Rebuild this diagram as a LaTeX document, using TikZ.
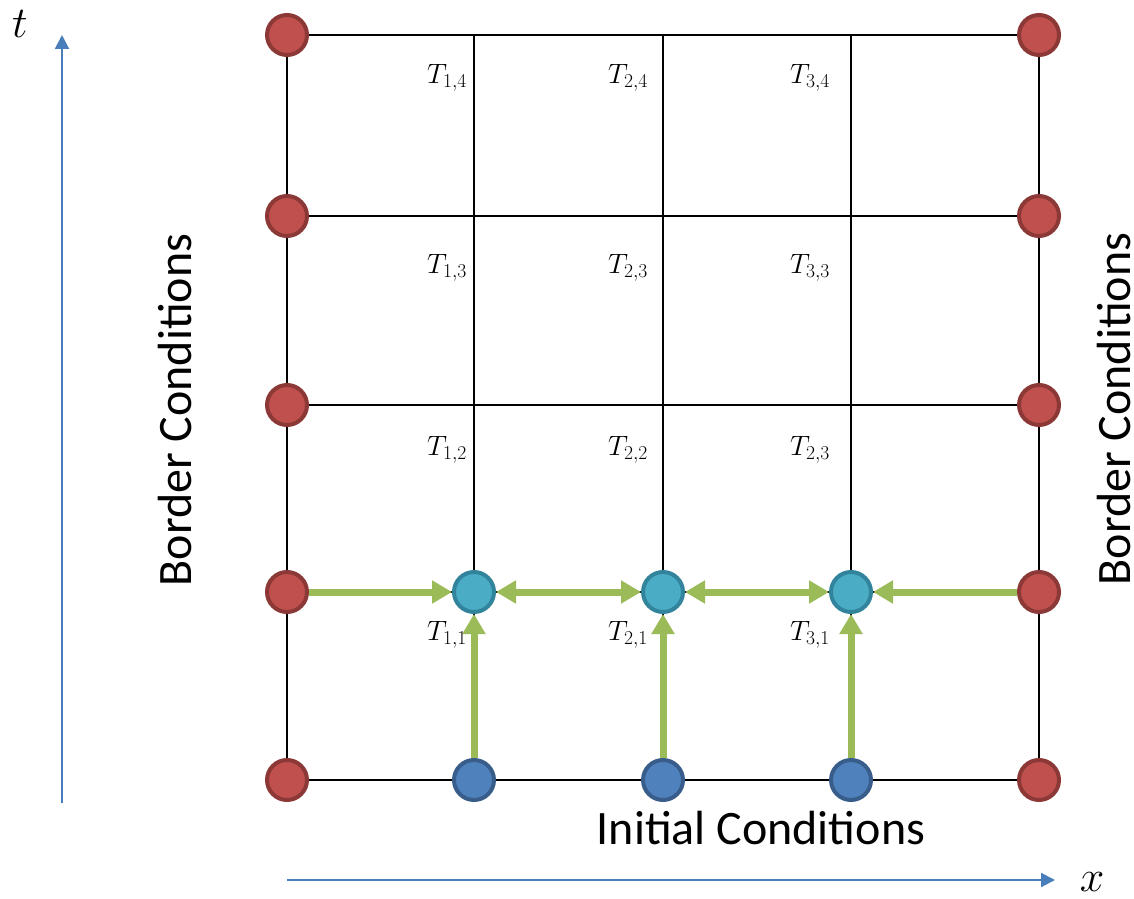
\RequirePackage{fix-cm}
\documentclass[tikz,border=0pt]{standalone}
\usepackage{fontspec}
\setmainfont{Carlito}
\usetikzlibrary{arrows.meta}
\definecolor{redfill}{HTML}{C0504D}
\definecolor{redline}{HTML}{8C3836}
\definecolor{bluefill}{HTML}{4F81BD}
\definecolor{blueline}{HTML}{385D8A}
\definecolor{cyanfill}{HTML}{4BACC6}
\definecolor{cyanline}{HTML}{31849B}
\definecolor{greenarr}{HTML}{9BBB59}
\definecolor{axisblue}{HTML}{4A7EBB}
\tikzset{
  dotbase/.style={circle, minimum size=40pt, inner sep=0pt, line width=4pt},
  reddot/.style={dotbase, fill=redfill, draw=redline},
  bluedot/.style={dotbase, fill=bluefill, draw=blueline},
  cyandot/.style={dotbase, fill=cyanfill, draw=cyanline},
  gridline/.style={line width=2pt, black},
  garrow/.style={line width=7pt, greenarr, -{Triangle[length=20pt,width=22pt]}},
  gdarrow/.style={line width=7pt, greenarr, {Triangle[length=20pt,width=22pt]}-{Triangle[length=20pt,width=22pt]}},
  axarrow/.style={line width=2pt, axisblue, -{Triangle[length=14pt,width=14pt]}},
  tlabel/.style={font=\fontsize{28}{32}\selectfont, inner sep=0pt},
  bigtext/.style={font=\fontsize{48}{52}\selectfont, inner sep=0pt},
  axlabel/.style={font=\fontsize{44}{48}\selectfont, inner sep=0pt}
}
\begin{document}
\begin{tikzpicture}[x=1pt,y=1pt]
\useasboundingbox (0,0) rectangle (1134,898);
% grid
\foreach \yy in {863,682,493,306,118} \draw[gridline] (287,\yy) -- (1039,\yy);
\foreach \xx in {287,474,663,851,1039} \draw[gridline] (\xx,118) -- (\xx,863);
% border dots
\foreach \yy [count=\i] in {863,682,493,306,118} {
  \node[reddot] (L\i) at (287,\yy) {};
  \node[reddot] (R\i) at (1039,\yy) {};
}
% bottom initial dots
\node[bluedot] (B1) at (474,118) {};
\node[bluedot] (B2) at (663,118) {};
\node[bluedot] (B3) at (851,118) {};
% first row computed dots
\node[cyandot] (C1) at (474,306) {};
\node[cyandot] (C2) at (663,306) {};
\node[cyandot] (C3) at (851,306) {};
% green arrows
\draw[garrow] (L4) -- (C1);
\draw[gdarrow] (C1) -- (C2);
\draw[gdarrow] (C2) -- (C3);
\draw[garrow] (R4) -- (C3);
\draw[garrow] (B1) -- (C1);
\draw[garrow] (B2) -- (C2);
\draw[garrow] (B3) -- (C3);
% labels
\node[tlabel] (t14) at (447,820) {$T_{1,4}$};
\node[tlabel] (t24) at (628,820) {$T_{2,4}$};
\node[tlabel] (t34) at (810,820) {$T_{3,4}$};
\node[tlabel] (t13) at (447,630) {$T_{1,3}$};
\node[tlabel] (t23) at (628,630) {$T_{2,3}$};
\node[tlabel] (t33) at (810,630) {$T_{3,3}$};
\node[tlabel] (t12) at (447,448) {$T_{1,2}$};
\node[tlabel] (t22) at (628,448) {$T_{2,2}$};
\node[tlabel] (t32) at (810,448) {$T_{2,3}$};
\node[tlabel] (t11) at (447,263) {$T_{1,1}$};
\node[tlabel] (t21) at (628,263) {$T_{2,1}$};
\node[tlabel] (t31) at (810,263) {$T_{3,1}$};
% texts
\node[bigtext] (init) at (761,70) {Initial Conditions};
\node[bigtext, rotate=90] (bcl) at (175,488) {Border Conditions};
\node[bigtext, rotate=90] (bcr) at (1114,489) {Border Conditions};
% axes
\coordinate (tstart) at (62,95);
\coordinate (tend) at (62,863);
\coordinate (xstart) at (287,18);
\coordinate (xend) at (1055,18);
\draw[axarrow] (tstart) -- (tend);
\draw[axarrow] (xstart) -- (xend);
\node[axlabel] (tlab) at (20,874) {$t$};
\node[axlabel] (xlab) at (1092,16) {$x$};
\end{tikzpicture}
\end{document}
